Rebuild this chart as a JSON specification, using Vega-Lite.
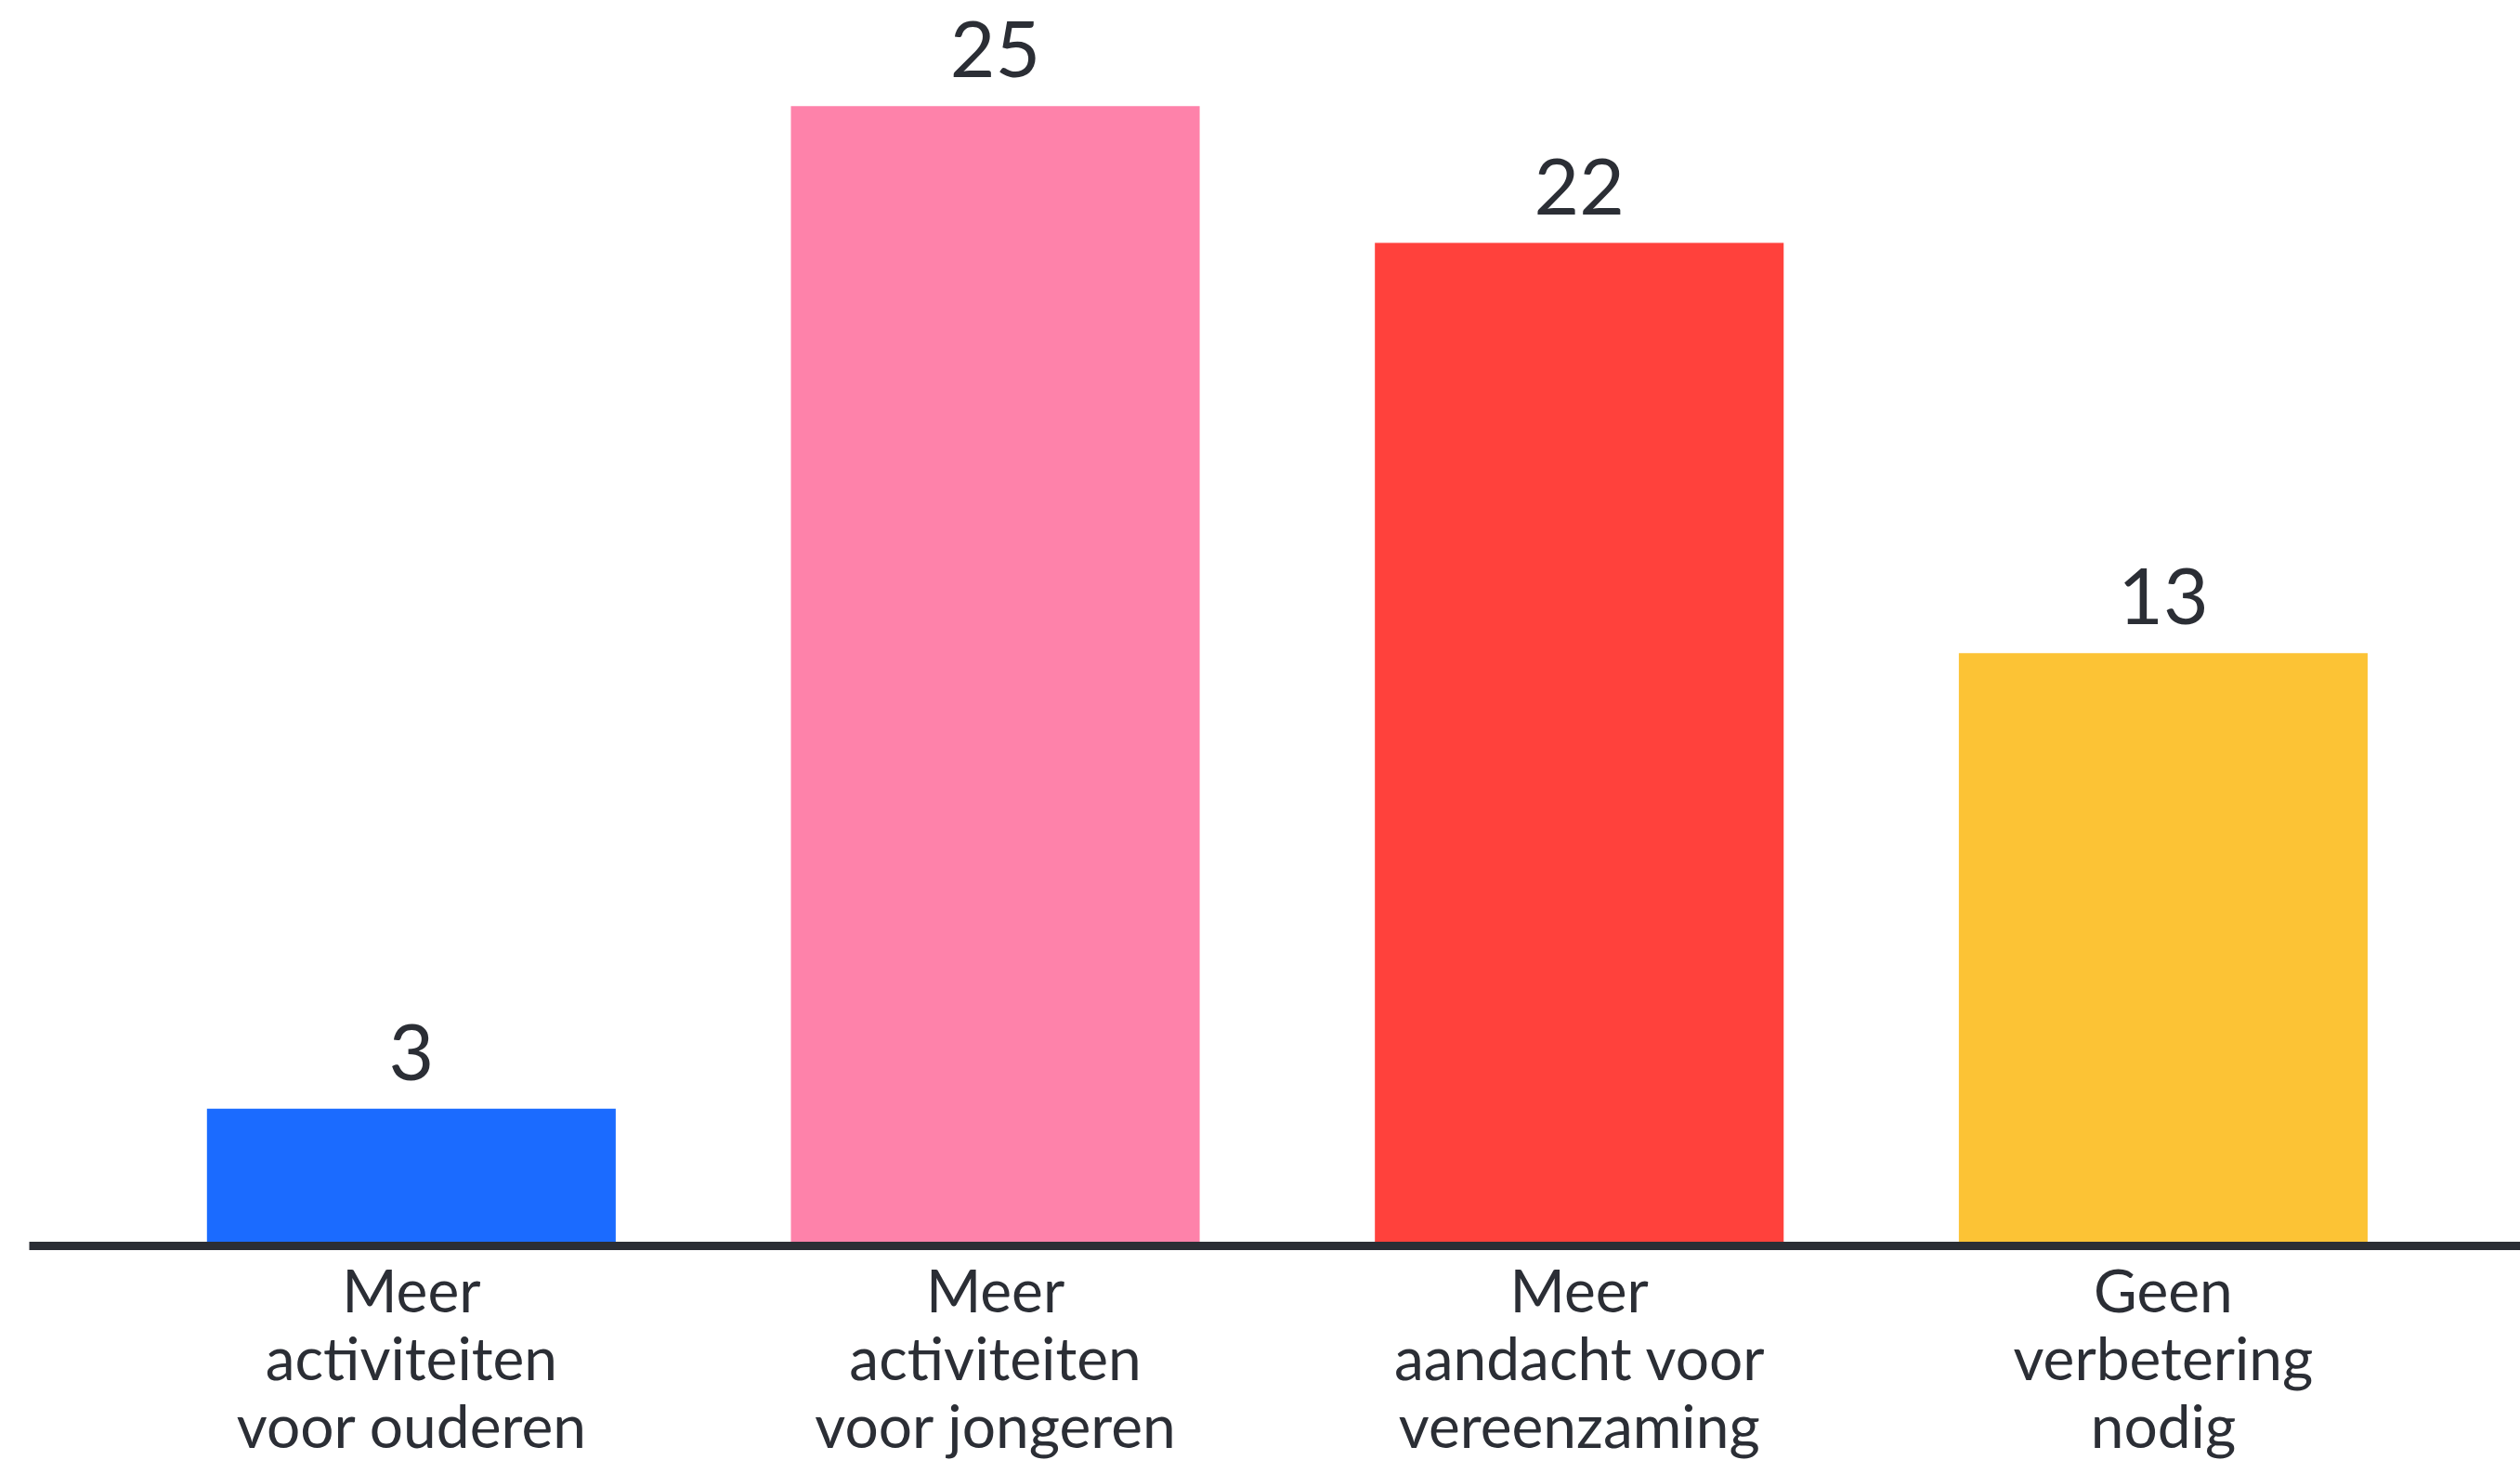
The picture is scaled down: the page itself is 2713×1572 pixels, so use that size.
{
  "$schema": "https://vega.github.io/schema/vega-lite/v6.json",
  "width": 2682,
  "height": 1341,
  "autosize": {"type": "none"},
  "padding": {"left": 31, "top": 0, "right": 0, "bottom": 231},
  "background": "white",
  "config": {"view": {"stroke": null}, "font": "Lato"},
  "data": {
    "values": [
      {"categorie": "Meer\nactiviteiten\nvoor ouderen", "aantal": 3},
      {"categorie": "Meer\nactiviteiten\nvoor jongeren", "aantal": 25},
      {"categorie": "Meer\naandacht voor\nvereenzaming", "aantal": 22},
      {"categorie": "Geen\nverbetering\nnodig", "aantal": 13}
    ]
  },
  "encoding": {
    "x": {
      "field": "categorie",
      "type": "nominal",
      "sort": null,
      "scale": {"paddingInner": 0.3, "paddingOuter": 0.283, "align": 0.539},
      "axis": {
        "title": null,
        "labelExpr": "split(datum.value, '\\n')",
        "labelAngle": 0,
        "labelAlign": "center",
        "labelBaseline": "top",
        "labelFontSize": 64,
        "labelLineHeight": 73,
        "labelColor": "#2b2e35",
        "labelPadding": 20,
        "labelLimit": 0,
        "labelOverlap": false,
        "ticks": false,
        "domain": true,
        "domainColor": "#2b2e35",
        "domainWidth": 9,
        "grid": false,
        "zindex": 1
      }
    },
    "y": {
      "field": "aantal",
      "type": "quantitative",
      "scale": {"domain": [0, 27.33], "nice": false, "zero": true},
      "axis": null
    }
  },
  "layer": [
    {
      "mark": {"type": "bar"},
      "encoding": {
        "color": {
          "field": "categorie",
          "type": "nominal",
          "legend": null,
          "scale": {
            "domain": ["Meer\nactiviteiten\nvoor ouderen", "Meer\nactiviteiten\nvoor jongeren", "Meer\naandacht voor\nvereenzaming", "Geen\nverbetering\nnodig"],
            "range": ["#1b6bff", "#fe82aa", "#ff413c", "#fcc335"]
          }
        }
      }
    },
    {
      "mark": {"type": "text", "baseline": "alphabetic", "align": "center", "dy": -31, "fontSize": 84, "color": "#2b2e35"},
      "encoding": {"text": {"field": "aantal", "type": "quantitative"}}
    }
  ]
}
